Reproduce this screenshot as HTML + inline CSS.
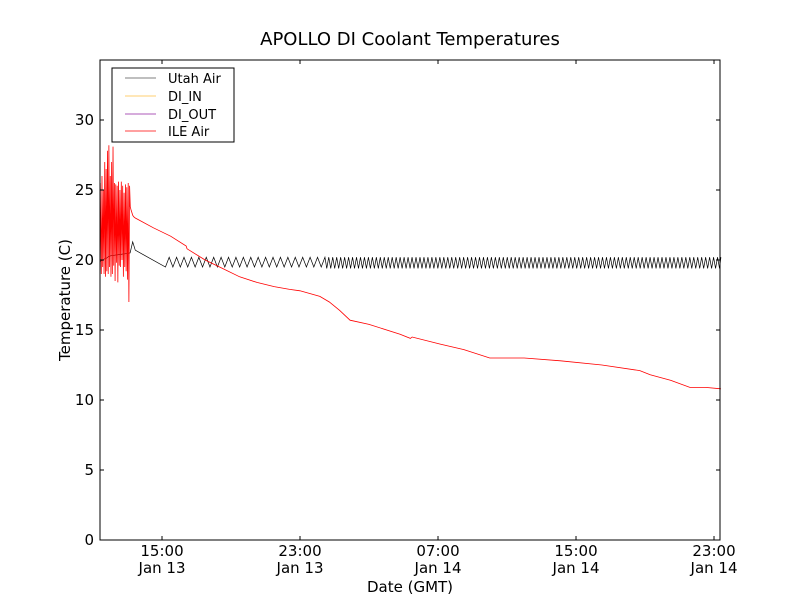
<!DOCTYPE html>
<html><head><meta charset="utf-8"><style>
body{margin:0;background:#fff;font-family:"DejaVu Sans","Liberation Sans",sans-serif}
svg text{font-family:"DejaVu Sans","Liberation Sans",sans-serif}
</style></head><body>
<svg id="c" width="800" height="600" xmlns="http://www.w3.org/2000/svg">
<rect width="800" height="600" fill="#fff"/>
<text x="410" y="45" font-size="18" text-anchor="middle">APOLLO DI Coolant Temperatures</text>
<g id="plot"></g>
<rect x="100" y="60" width="620" height="480" fill="none" stroke="#000" stroke-width="1"/>
<g id="axes"></g>
<text x="410" y="592" font-size="15" text-anchor="middle">Date (GMT)</text>
<text x="70" y="300" font-size="15" text-anchor="middle" transform="rotate(-90 70 300)">Temperature (C)</text>
<g>
<rect x="112" y="68" width="122" height="74" fill="#fff" stroke="#000"/>
<g><line x1="125" y1="78" x2="156" y2="78" stroke="#000" stroke-width="0.6"/><text x="168" y="83" font-size="13">Utah Air</text></g>
<g><line x1="125" y1="96" x2="156" y2="96" stroke="#ffbf40" stroke-width="0.8"/><text x="168" y="101" font-size="13">DI_IN</text></g>
<g><line x1="125" y1="114" x2="156" y2="114" stroke="#9020a0" stroke-width="0.8"/><text x="168" y="119" font-size="13">DI_OUT</text></g>
<g><line x1="125" y1="131" x2="156" y2="131" stroke="#f00" stroke-width="0.8"/><text x="168" y="136" font-size="13">ILE Air</text></g>
</g>
</svg>
<script>
// hours since Jan 13 00:00 GMT
const xTickHours=[15,23,31,39,47];
const xTickTimes=["15:00","23:00","07:00","15:00","23:00"];
const xTickDates=["Jan 13","Jan 13","Jan 14","Jan 14","Jan 14"];
const yTicks=[0,5,10,15,20,25,30];
// ILE Air: noisy start then smooth decline
const ileHours=[11.42,11.48,11.52,11.56,11.6,11.64,11.68,11.72,11.76,11.8,11.84,11.88,11.92,11.96,12.0,12.04,12.08,12.12,12.16,12.2,12.24,12.28,12.32,12.36,12.4,12.44,12.48,12.52,12.56,12.6,12.64,12.68,12.72,12.76,12.8,12.84,12.88,12.92,12.96,13.0,13.04,13.08,13.12,13.16,13.2,13.25,13.3,13.35,13.45,14.5,15.5,16.4,16.45,17.5,18.5,19.5,20.5,21.5,22.4,23.0,24.15,24.7,25.3,25.9,27.0,28.8,29.4,29.5,31.1,32.5,34.0,36.0,38.1,40.5,42.7,43.3,44.5,45.6,46.5,47.4];
const ileVals=[25.5,19,26,19.5,25,19,27,18.8,26.5,19.2,27.8,19,28.2,19.5,26,18.8,27,19,28.1,19.6,25.5,18.5,25.4,19.8,25.3,18.4,25.6,19.6,25,19.5,25.6,20,25.3,18.8,24.8,19.5,25.4,19.2,25.2,18.6,25.5,17,25.3,23.8,23.6,23.4,23.2,23.1,23.0,22.3,21.7,21.0,20.8,20.0,19.4,18.8,18.4,18.1,17.9,17.8,17.4,17.0,16.4,15.7,15.4,14.7,14.4,14.5,14.0,13.6,13.0,13.0,12.8,12.5,12.1,11.8,11.4,10.9,10.9,10.8];
// Utah Air smooth part
const utahHours=[11.42,12.0,12.6,13.15,13.3,13.45,15.2];
const utahVals=[19.9,20.3,20.4,20.5,21.3,20.7,19.5];
// Utah Air oscillation segments: start hour, end hour, period (h), low, high
const utahOscStart=[15.2,24.55];
const utahOscEnd=[24.55,47.4];
const utahOscPeriod=[0.43,0.23];
const utahOscLow=[19.5,19.4];
const utahOscHigh=[20.2,20.2];

const X=h=>100+(h-11.405)*17.25;
const Y=v=>540-v*14;
const NS="http://www.w3.org/2000/svg";
const plot=document.getElementById('plot');
const axes=document.getElementById('axes');
function mk(tag,attrs,parent){const e=document.createElementNS(NS,tag);for(const k in attrs)e.setAttribute(k,attrs[k]);parent.appendChild(e);return e;}

// Utah series
let pts=utahHours.map((h,i)=>[X(h),Y(utahVals[i])]);
for(let s=0;s<utahOscStart.length;s++){
  for(let h=utahOscStart[s];h<utahOscEnd[s];h+=utahOscPeriod[s]){
    pts.push([X(h),Y(utahOscLow[s])]);
    pts.push([X(Math.min(h+utahOscPeriod[s]/2,utahOscEnd[s])),Y(utahOscHigh[s])]);
  }
}
const utah=mk('polyline',{points:pts.map(p=>p.join(',')).join(' '),fill:'none',stroke:'#000','stroke-width':0.7},plot);



const ile=mk('polyline',{points:ileHours.map((h,i)=>X(h)+','+Y(ileVals[i])).join(' '),fill:'none',stroke:'#f00','stroke-width':0.8},plot);



yTicks.forEach(v=>{
  const y=Y(v);
  mk('line',{x1:100,y1:y,x2:104,y2:y,stroke:'#000'},axes);
  mk('line',{x1:716,y1:y,x2:720,y2:y,stroke:'#000'},axes);
  const t=mk('text',{x:94,y:y+5,'font-size':15,'text-anchor':'end'},axes);
  t.textContent=v;
  
  
});
xTickHours.forEach((h,i)=>{
  const x=X(h);
  mk('line',{x1:x,y1:540,x2:x,y2:536,stroke:'#000'},axes);
  mk('line',{x1:x,y1:60,x2:x,y2:64,stroke:'#000'},axes);
  const t=mk('text',{x:x,y:556,'font-size':15,'text-anchor':'middle'},axes);
  t.textContent=xTickTimes[i];
  
  
  const d=mk('text',{x:x,y:573,'font-size':15,'text-anchor':'middle'},axes);
  d.textContent=xTickDates[i];
  
  
});
</script>
</body></html>
